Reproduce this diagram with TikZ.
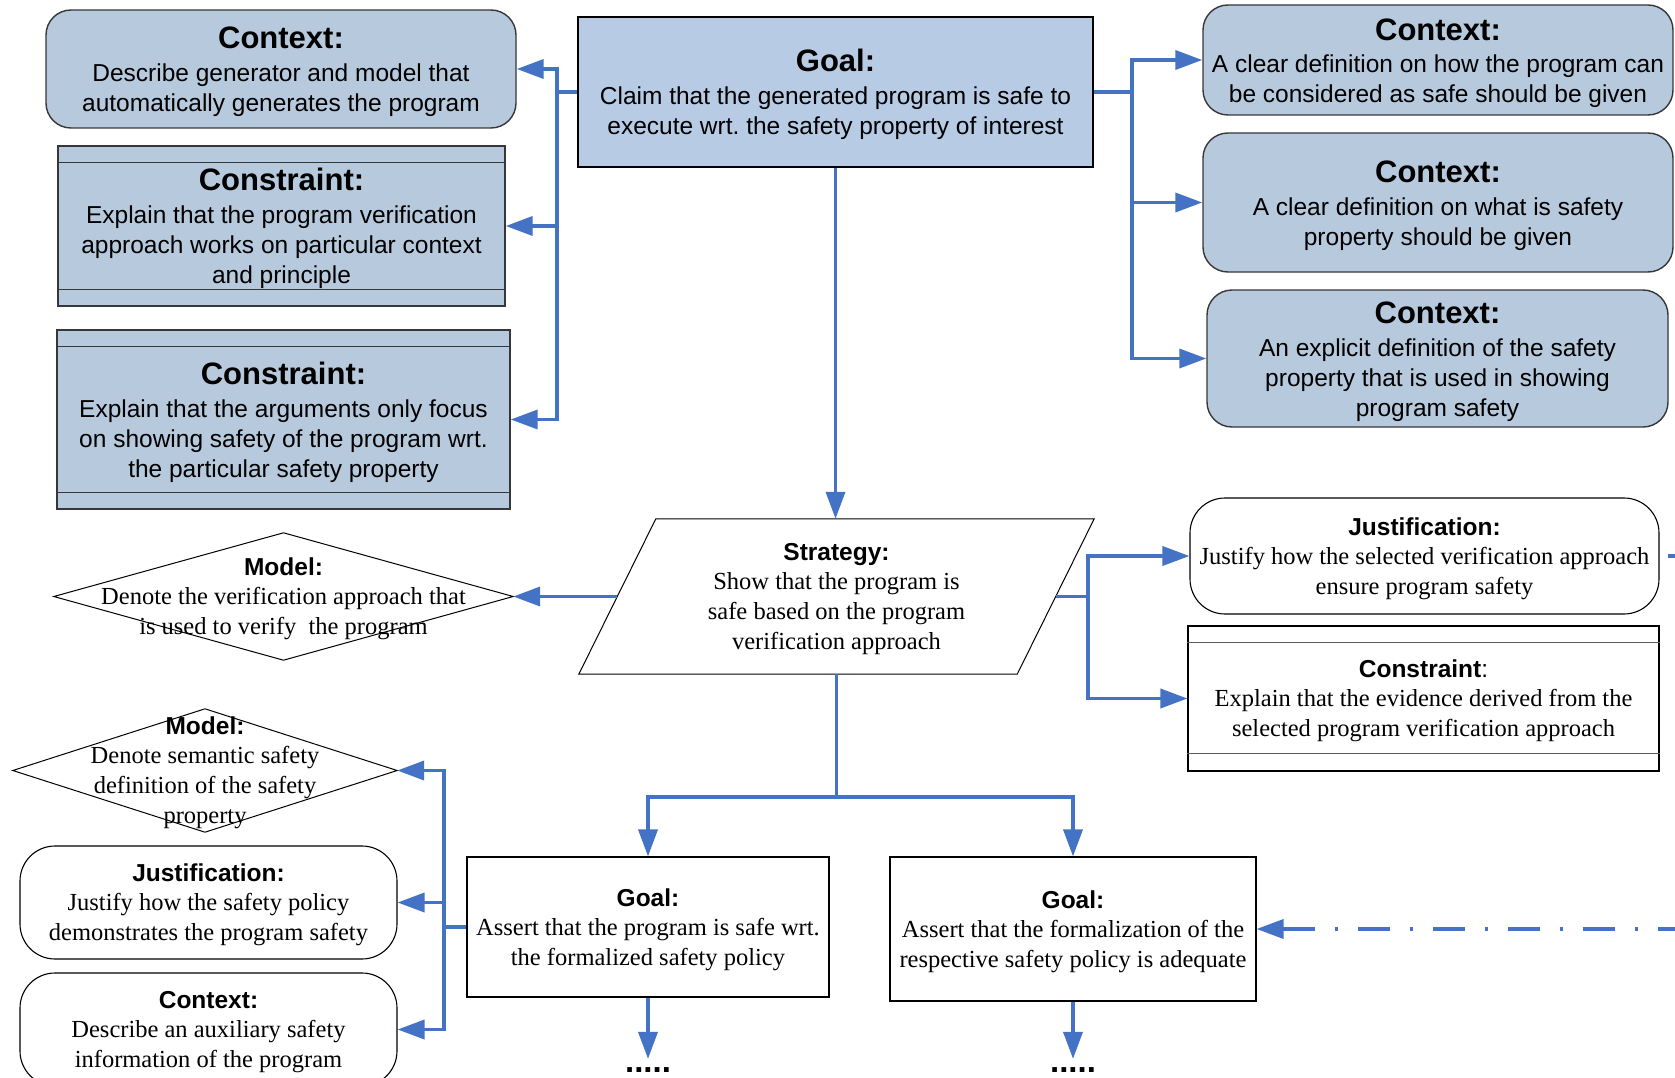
\documentclass[tikz,border=0pt]{standalone}
\usepackage{fontspec}
\setmainfont{Liberation Serif}
\setsansfont{Liberation Sans}
\usetikzlibrary{arrows.meta}
\definecolor{lblue}{RGB}{68,114,196}
\definecolor{goalfill}{RGB}{184,203,228}
\definecolor{boxfill}{RGB}{183,201,220}
\definecolor{boxdraw}{RGB}{55,55,55}
\definecolor{sepgray}{RGB}{90,90,90}
\newcommand\hA[1]{{\fontsize{31}{36}\selectfont\sffamily\bfseries\rule{0pt}{28pt}#1}}
\newcommand\hB[1]{{\fontsize{24.5}{30}\selectfont\sffamily\bfseries\rule{0pt}{23pt}#1}}
\frenchspacing
\begin{document}
\begin{tikzpicture}[x=1pt,y=-1pt,
  conn/.style={draw=lblue,line width=3.6pt},
  arr/.style={conn,-{Triangle[length=27pt,width=19pt]}},
  sanstext/.style={font=\fontsize{24.5}{30}\selectfont\sffamily\frenchspacing, align=center, inner sep=1pt},
  seriftext/.style={font=\fontsize{24.5}{30}\selectfont\rmfamily\frenchspacing, align=center, inner sep=1pt},
  ctxbox/.style={sanstext, fill=boxfill, draw=boxdraw, line width=1.4pt, rounded corners=25pt},
  conbox/.style={sanstext, fill=boxfill, draw=boxdraw, line width=1.4pt},
  goalbox/.style={sanstext, fill=goalfill, draw=black, line width=1.6pt},
  whitebox/.style={seriftext, draw=black, line width=1.1pt},
  pillbox/.style={whitebox, rounded corners=35pt},
  hidden/.style={seriftext, inner sep=0pt},
  outline/.style={draw=black, line width=1pt},
  sepline/.style={draw=boxdraw, line width=1.4pt},
  wsepline/.style={draw=sepgray, line width=1pt},
  dotstyle/.style={font=\fontsize{33}{36}\selectfont\sffamily\bfseries, inner sep=0pt, anchor=base},
]
\useasboundingbox (0,0) rectangle (1675,1078);
\clip (0,0) rectangle (1675,1078);

% ---------- top row ----------
\node[goalbox, minimum width=515pt, minimum height=150pt] (goalT) at (835.5,92)
  {\hA{Goal:}\\[3pt] Claim that the generated program is safe to\\ execute wrt. the safety property of interest};

\node[ctxbox, minimum width=470pt, minimum height=118pt] (ctxTL) at (281,69)
  {\hA{Context:}\\[3pt] Describe generator and model that\\ automatically generates the program};

\node[conbox, minimum width=447pt, minimum height=160pt] (con1) at (281.5,226)
  {\hA{Constraint:}\\[3pt] Explain that the program verification\\ approach works on particular context\\ and principle};
\draw[sepline] ([yshift=-17pt]con1.north west) -- ([yshift=-17pt]con1.north east);
\draw[sepline] ([yshift=17pt]con1.south west) -- ([yshift=17pt]con1.south east);

\node[conbox, minimum width=453pt, minimum height=179pt] (con2) at (283.5,419.5)
  {\hA{Constraint:}\\[3pt] Explain that the arguments only focus\\ on showing safety of the program wrt.\\ the particular safety property};
\draw[sepline] ([yshift=-17pt]con2.north west) -- ([yshift=-17pt]con2.north east);
\draw[sepline] ([yshift=17pt]con2.south west) -- ([yshift=17pt]con2.south east);

\node[ctxbox, minimum width=470pt, minimum height=110pt] (ctxR1) at (1438,60)
  {\hA{Context:}\\[2pt] A clear definition on how the program can\\ be considered as safe should be given};
\node[ctxbox, minimum width=470pt, minimum height=139pt] (ctxR2) at (1438,202.5)
  {\hA{Context:}\\[3pt] A clear definition on what is safety\\ property should be given};
\node[ctxbox, minimum width=461pt, minimum height=137pt] (ctxR3) at (1437.5,358.5)
  {\hA{Context:}\\[3pt] An explicit definition of the safety\\ property that is used in showing\\ program safety};

% ---------- middle row ----------
\node[hidden, minimum width=515pt, minimum height=155pt] (strat) at (836.5,596.5)
  {\hB{Strategy:}\\[-1pt] Show that the program is\\ safe based on the program\\ verification approach};
\draw[outline] ([xshift=77pt]strat.north west) -- (strat.north east)
  -- ([xshift=-77pt]strat.south east) -- (strat.south west) -- cycle;

\node[hidden, minimum width=459pt, minimum height=127pt] (model1) at (283.5,596.5)
  {\hB{Model:}\\[-1pt] Denote the verification approach that\\ is used to verify\ \ the program};
\draw[outline] (model1.west) -- (model1.north) -- (model1.east) -- (model1.south) -- cycle;

\node[pillbox, minimum width=469pt, minimum height=116pt] (justR) at (1424.5,556)
  {\hB{Justification:}\\[-1pt] Justify how the selected verification approach\\ ensure program safety};

\node[whitebox, minimum width=471pt, minimum height=145pt] (conR) at (1423.5,698.5)
  {\hB{Constraint}{\sffamily :}\\[-1pt] Explain that the evidence derived from the\\ selected program verification approach};
\draw[wsepline] ([yshift=-17pt]conR.north west) -- ([yshift=-17pt]conR.north east);
\draw[wsepline] ([yshift=18pt]conR.south west) -- ([yshift=18pt]conR.south east);

% ---------- bottom row ----------
\node[hidden, minimum width=384pt, minimum height=123pt] (model2) at (205,770.5)
  {\hB{Model:}\\[-1pt] Denote semantic safety\\ definition of the safety\\ property};
\draw[outline] (model2.west) -- (model2.north) -- (model2.east) -- (model2.south) -- cycle;

\node[pillbox, minimum width=377pt, minimum height=113pt] (justL) at (208.5,902.5)
  {\hB{Justification:}\\[-1pt] Justify how the safety policy\\ demonstrates the program safety};
\node[pillbox, minimum width=377pt, minimum height=113pt] (ctxL) at (208.5,1029.5)
  {\hB{Context:}\\[-1pt] Describe an auxiliary safety\\ information of the program};

\node[whitebox, minimum width=362pt, minimum height=140pt] (goalBL) at (648,927)
  {\hB{Goal:}\\[-1pt] Assert that the program is safe wrt.\\ the formalized safety policy};
\node[whitebox, minimum width=366pt, minimum height=144pt] (goalBR) at (1073,929)
  {\hB{Goal:}\\[-1pt] Assert that the formalization of the\\ respective safety policy is adequate};

\node[dotstyle] (dots1) at (648,1072) {.....};
\node[dotstyle] (dots2) at (1073,1072) {.....};

% ---------- connectors ----------
\coordinate (jL) at (557,92);
\draw[arr] (goalT.west) -- (jL) |- (ctxTL.east);
\draw[arr] (jL) |- (con1.east);
\draw[arr] (jL) |- (con2.east);

\coordinate (jR) at (1132,92);
\draw[arr] (goalT.east) -- (jR) |- (ctxR1.west);
\draw[arr] (jR) |- (ctxR2.west);
\draw[arr] (jR) |- (ctxR3.west);

\draw[arr] (goalT.south) -- (goalT.south |- strat.north);

\draw[arr] ([xshift=38.5pt]strat.west) -- (model1.east);

\coordinate (jS) at (1088,596.5);
\draw[arr] ([xshift=-38.5pt]strat.east) -- (jS) |- (justR.west);
\draw[arr] (jS) |- (conR.west);

\coordinate (jD) at (836.5,797);
\draw[arr] (strat.south) -- (jD) -| (goalBL.north);
\draw[arr] (jD) -| (goalBR.north);

\coordinate (jB) at (444,927);
\draw[arr] (goalBL.west) -- (jB) |- (model2.east);
\draw[arr] (jB) |- (justL.east);
\draw[arr] (jB) |- (ctxL.east);

\draw[arr] (goalBL.south) -- ([yshift=8pt]dots1.north);
\draw[arr] (goalBR.south) -- ([yshift=8pt]dots2.north);

\coordinate (edgeR) at (1675,929);
\draw[conn, dash pattern=on 32pt off 20pt on 3pt off 20pt, {Triangle[length=27pt,width=19pt]}-] (goalBR.east) -- (edgeR);

\coordinate (stubR) at (1675,556);
\draw[conn] ([xshift=8pt]justR.east) -- (stubR);
\end{tikzpicture}
\end{document}
